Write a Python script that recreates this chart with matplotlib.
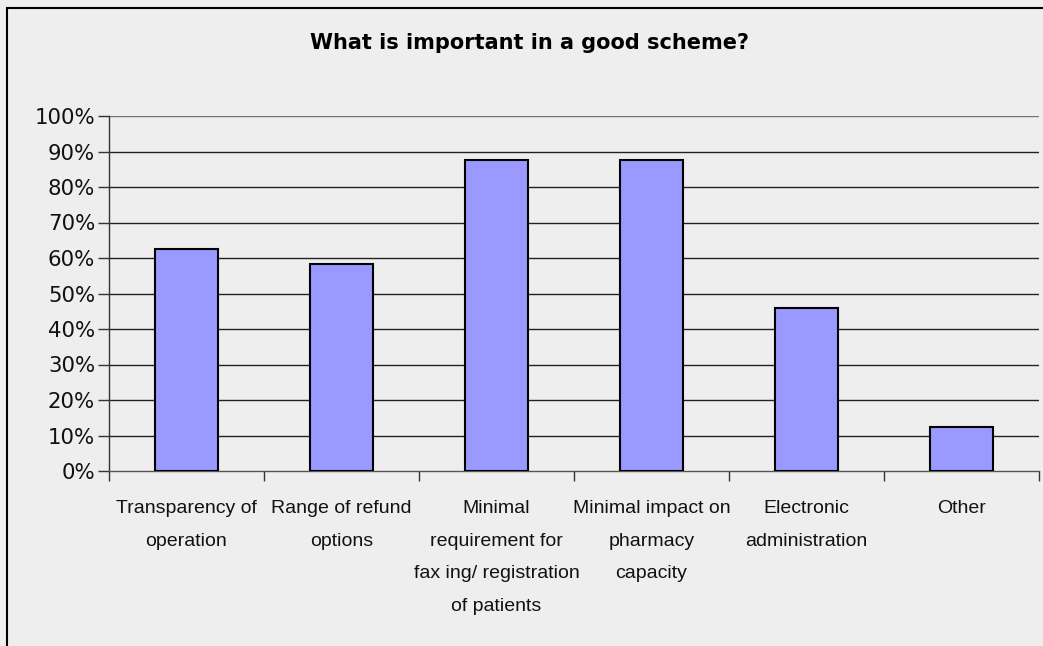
import matplotlib
matplotlib.use("Agg")
import matplotlib.pyplot as plt
from matplotlib.patches import Rectangle
from matplotlib.ticker import FixedLocator, NullFormatter, FuncFormatter

categories = [
    "Transparency of\noperation",
    "Range of refund\noptions",
    "Minimal\nrequirement for\nfax ing/ registration\nof patients",
    "Minimal impact on\npharmacy\ncapacity",
    "Electronic\nadministration",
    "Other",
]
values = [0.625, 0.583, 0.875, 0.875, 0.458, 0.125]
yticks = [i / 10 for i in range(11)]
title = "What is important in a good scheme?"

W, H = 1043, 646
bg = "#eeeeee"
fig = plt.figure(figsize=(W / 100, H / 100), dpi=100, facecolor=bg)

# outer frame of the chart area
fig.patches.append(Rectangle((7 / W, -0.05), 1.2, 1 - 8 / H + 0.05,
                             transform=fig.transFigure, fill=False,
                             edgecolor="black", linewidth=1.5))

ax = fig.add_axes([109 / W, 1 - 471 / H, (1039 - 109) / W, (471 - 116) / H])
ax.set_facecolor(bg)

x = list(range(len(categories)))
ax.bar(x, values, width=0.41, color="#9999ff", edgecolor="black",
       linewidth=1.5, zorder=3)

ax.set_xlim(-0.5, len(categories) - 0.5)
ax.set_ylim(0, 1)

ax.set_yticks(yticks)
ax.yaxis.set_major_formatter(FuncFormatter(lambda v, p: f"{v:.0%}"))
ax.tick_params(axis="y", length=8, width=1, color="#333333",
               labelsize=15.3, pad=2, labelcolor="#111111")
for lbl in ax.get_yticklabels():
    lbl.set_fontfamily("DejaVu Sans")

for yv in yticks[1:]:
    ax.axhline(yv, color="#222222", linewidth=1, zorder=1,
               alpha=0.6 if yv == 1 else 1)

ax.xaxis.set_major_locator(FixedLocator([i - 0.5 for i in range(len(categories) + 1)]))
ax.xaxis.set_major_formatter(NullFormatter())
ax.tick_params(axis="x", length=7, width=1, color="#333333")

for i, lab in enumerate(categories):
    ax.text(i, -0.082, lab, ha="center", va="top", fontsize=14,
            family="Liberation Sans", linespacing=2.2, color="#111111",
            transform=ax.get_xaxis_transform())

for s in ["top", "right"]:
    ax.spines[s].set_visible(False)
ax.spines["left"].set_color("#333333")
ax.spines["bottom"].set_color("#555555")
ax.spines["left"].set_linewidth(1)
ax.spines["bottom"].set_linewidth(1)

fig.text(530 / W, 1 - 43 / H, title, ha="center", va="center",
         fontsize=15, fontweight="bold", family="DejaVu Sans")

fig.savefig("out.png", dpi=100, facecolor=bg)
